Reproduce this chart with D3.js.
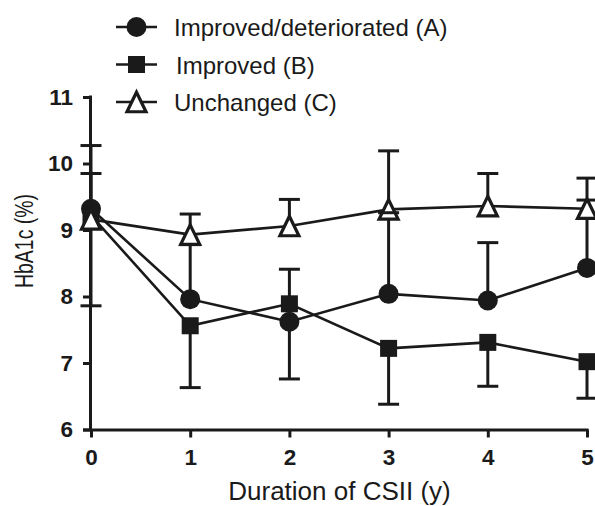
<!DOCTYPE html>
<html><head><meta charset="utf-8">
<script src="https://cdn.jsdelivr.net/npm/d3@7"></script>
<style>
html,body{margin:0;padding:0;background:#fff;}
svg{display:block;}
text{font-family:"Liberation Sans",Arial,Helvetica,sans-serif;fill:#1a1a1a;}
</style></head>
<body><svg id="c" width="595" height="506"></svg>
<script>
// ---- data ----
const years = [0, 1, 2, 3, 4, 5];
const xTickLabels = ["0", "1", "2", "3", "4", "5"];
const yTickValues = [6, 7, 8, 9, 10, 11];
const meanA = [9.32, 7.96, 7.62, 8.04, 7.94, 8.43];
const sdA   = [0.95, 0.82, 0.79, 1.22, 0.87, 1.02];   // drawn upward
const meanB = [9.22, 7.56, 7.89, 7.22, 7.31, 7.02];
const sdB   = [1.36, 0.93, 1.13, 0.84, 0.66, 0.55];   // drawn downward
const meanC = [9.16, 8.93, 9.06, 9.31, 9.36, 9.32];
const sdC   = [0.69, 0.31, 0.40, 0.88, 0.49, 0.46];   // drawn upward
const seriesNames = ["Improved/deteriorated (A)", "Improved (B)", "Unchanged (C)"];
const xTitle = "Duration of CSII (y)";
const yTitle = "HbA1c (%)";

const series = [
  {name: seriesNames[0], mean: meanA, sd: sdA, dir: 1, sym: "circle"},
  {name: seriesNames[1], mean: meanB, sd: sdB, dir: -1, sym: "square"},
  {name: seriesNames[2], mean: meanC, sd: sdC, dir: 1, sym: "triangle"}
];

const ink = "#1a1a1a";
const svg = d3.select("#c");
const x = d3.scaleLinear().domain([0, 5]).range([91, 587]);
const y = d3.scaleLinear().domain([6, 11]).range([429.5, 97]);

function symPath(kind) {
  if (kind === "circle") return d3.symbol(d3.symbolCircle, Math.PI * 10 * 10)();
  if (kind === "square") return d3.symbol(d3.symbolSquare, 17 * 17)();
  const w = 19, h = 19.5;
  return `M0,${-h/2}L${w/2},${h/2}L${-w/2},${h/2}Z`;
}
function styleSym(sel, kind) {
  if (kind === "triangle") sel.attr("fill", "#fff").attr("stroke", ink).attr("stroke-width", 3.2).attr("stroke-linejoin", "miter");
  else sel.attr("fill", ink).attr("stroke", "none");
}

// axes
const yAxis = d3.axisLeft(y).tickValues(yTickValues).tickSize(7).tickSizeOuter(0).tickPadding(10).tickFormat(d3.format("d"));
const xAxis = d3.axisBottom(x).tickValues(years).tickSize(8).tickSizeOuter(0).tickPadding(12).tickFormat((d, i) => xTickLabels[i]);

const gy = svg.append("g").attr("transform", `translate(${x(0) - 1},0)`).call(yAxis);
const gx = svg.append("g").attr("transform", `translate(0,${y(6)})`).call(xAxis);
[gx, gy].forEach(g => {
  g.select(".domain").attr("stroke", ink).attr("stroke-width", 3);
  g.selectAll(".tick line").attr("stroke", ink).attr("stroke-width", 3);
  g.selectAll(".tick text").attr("font-size", 22.5).attr("font-weight", "bold").attr("fill", ink)
    .style("font-family", '"Liberation Sans",Arial,sans-serif');
});
gx.select(".domain").attr("d", `M${x(0) - 8},0.5H${x(5) + 1.5}`);
gy.select(".domain").attr("d", `M0.5,${y(11) - 1.5}V${y(6) + 1.5}`);

// connecting lines
const line = d3.line().x((d, i) => x(years[i])).y(d => y(d));
series.forEach(s => {
  svg.append("path").attr("d", line(s.mean)).attr("fill", "none").attr("stroke", ink).attr("stroke-width", 2.6);
});

// error bars (vertical)
const capHalf = 10.5;
series.forEach(s => {
  const g = svg.append("g");
  s.mean.forEach((m, i) => {
    const e = m + s.dir * s.sd[i];
    g.append("line").attr("x1", x(years[i])).attr("x2", x(years[i])).attr("y1", y(m)).attr("y2", y(e))
      .attr("stroke", ink).attr("stroke-width", 3);
  });
});

// symbols
series.forEach(s => {
  const p = svg.append("g").selectAll("path").data(s.mean).join("path")
    .attr("d", symPath(s.sym))
    .attr("transform", (d, i) => `translate(${x(years[i])},${y(d)})`);
  styleSym(p, s.sym);
});

// caps on top
series.forEach(s => {
  const g = svg.append("g");
  s.mean.forEach((m, i) => {
    const e = m + s.dir * s.sd[i];
    g.append("line").attr("x1", x(years[i]) - capHalf).attr("x2", x(years[i]) + capHalf).attr("y1", y(e)).attr("y2", y(e))
      .attr("stroke", ink).attr("stroke-width", 3);
  });
});

// legend
const lg = svg.append("g");
series.forEach((s, i) => {
  const cy = 27 + i * 37.5;
  lg.append("line").attr("x1", 116).attr("x2", 157).attr("y1", cy).attr("y2", cy).attr("stroke", ink).attr("stroke-width", 2.6);
  const p = lg.append("path").attr("d", symPath(s.sym)).attr("transform", `translate(136.5,${cy})`);
  styleSym(p, s.sym);
  lg.append("text").attr("x", i === 1 ? 176 : 174).attr("y", cy + 9).attr("font-size", 24).text(s.name);
});

// titles
svg.append("text").attr("x", 339.5).attr("y", 500).attr("text-anchor", "middle").attr("font-size", 26).text(xTitle);
svg.append("text").attr("transform", "translate(33,241) rotate(-90)").attr("text-anchor", "middle")
  .attr("font-size", 25).attr("textLength", 94).attr("lengthAdjust", "spacingAndGlyphs").text(yTitle);
</script></body></html>
